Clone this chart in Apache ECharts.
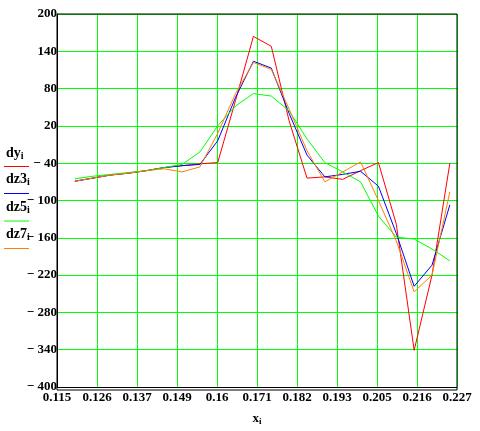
<!DOCTYPE html>
<html>
<head>
<meta charset="utf-8">
<script src="https://cdn.jsdelivr.net/npm/echarts@6/dist/echarts.min.js"></script>
<style>
html,body{margin:0;padding:0;background:#fff;}
#c{width:480px;height:431px;}
</style>
</head>
<body>
<div id="c"></div>
<script>
// x values
var xs = [0.120, 0.125, 0.130, 0.135, 0.140, 0.145, 0.150, 0.155, 0.160, 0.165, 0.170,
          0.175, 0.180, 0.185, 0.190, 0.195, 0.200, 0.205, 0.210, 0.215, 0.220, 0.225];
// series
var dy  = [-69, -64, -59, -56, -52, -47, -44, -41, -39, 61, 164, 148, 28, -64, -62, -66, -52, -39, -138, -341, -220, -40];
var dz3 = [-69, -64, -59, -56, -52, -47, -44, -42, -4, 66, 124, 113, 40, -27, -62, -58, -53, -77, -153, -238, -204, -107];
var dz5 = [-65, -61, -58, -55, -52, -47, -42, -22, 20, 52, 72, 68, 44, -1, -39, -54, -70, -125, -159, -162, -178, -197];
var dz7 = [-69, -64, -59, -56, -52, -49, -54, -46, 8, 72, 122, 111, 47, -20, -70, -54, -38, -100, -165, -247, -220, -86];
// ticks
var xTicks = [0.115, 0.1262, 0.1374, 0.1486, 0.1598, 0.171, 0.1822, 0.1934, 0.2046, 0.2158, 0.227];
var yTicks = [-400, -340, -280, -220, -160, -100, -40, 20, 80, 140, 200];

var FONT = '"Liberation Serif", "Times New Roman", serif';
function pairs(ys){ return xs.map(function(x,i){ return [x, ys[i]]; }); }
function mk(name, ys, color){
  return {name:name, type:'line', data:pairs(ys), showSymbol:false, symbol:'none',
          lineStyle:{color:color, width:1}, itemStyle:{color:color}, animation:false, silent:true};
}
var GL = 57, GT = 14, GW = 400, GH = 376;
var legendItems = [
  {t:'dy', y:155, ly:166.5, c:'#ff0000'},
  {t:'dz3', y:181, ly:193.5, c:'#0000ff'},
  {t:'dz5', y:209, ly:221, c:'#00ff00'},
  {t:'dz7', y:236, ly:248.5, c:'#ff8000'}
];
var graphics = [];
legendItems.forEach(function(it){
  graphics.push({type:'text', left:6, top:it.y-9, z:10, style:{
    text:'{b|'+it.t+'}{s|i}', rich:{
      b:{fontFamily:FONT, fontWeight:'bold', fontSize:14, fill:'#000'},
      s:{fontFamily:FONT, fontWeight:'bold', fontSize:10, fill:'#000', padding:[7,0,0,0]}
    }}});
  graphics.push({type:'line', z:10, shape:{x1:4, y1:it.ly, x2:29, y2:it.ly}, style:{stroke:it.c, lineWidth:1}});
});
graphics.push({type:'rect', z:20, silent:true, shape:{x:GL, y:GT, width:GW, height:GH},
  style:{fill:'none', stroke:'#000', lineWidth:1}});

var chart = echarts.init(document.getElementById('c'), null, {renderer:'canvas'});
chart.setOption({
  animation:false,
  backgroundColor:'#fff',
  grid:{left:GL, top:GT, width:GW, height:GH, show:false},
  xAxis:{type:'value', min:0.115, max:0.227,
    axisLine:{show:true, onZero:false, lineStyle:{color:'#000', width:1}},
    axisTick:{show:false, customValues:xTicks},
    splitLine:{show:true, lineStyle:{color:'#00ff00', width:1}},
    axisLabel:{customValues:xTicks, margin:4, color:'#000', fontFamily:FONT, fontWeight:'bold', fontSize:13,
      formatter:function(v){ return String(parseFloat(v.toFixed(3))); }},
    name:'{b|x}{s|i}', nameLocation:'middle', nameGap:24,
    nameTextStyle:{rich:{
      b:{fontFamily:FONT, fontWeight:'bold', fontSize:13, color:'#000'},
      s:{fontFamily:FONT, fontWeight:'bold', fontSize:9, color:'#000', padding:[6,0,0,0]}
    }}
  },
  yAxis:{type:'value', min:-400, max:200,
    axisLine:{show:true, onZero:false, lineStyle:{color:'#000', width:1}},
    axisTick:{show:false, customValues:yTicks},
    splitLine:{show:true, lineStyle:{color:'#00ff00', width:1}},
    axisLabel:{customValues:yTicks, margin:0, color:'#000', fontFamily:FONT, fontWeight:'bold', fontSize:13,
      formatter:function(v){ return v < 0 ? '\u2212 ' + Math.abs(v) : String(v); }}
  },
  series:[
    mk('dy', dy, '#ff0000'),
    mk('dz3', dz3, '#0000ff'),
    mk('dz5', dz5, '#00ff00'),
    mk('dz7', dz7, '#ff8000')
  ],
  graphic:graphics
});
</script>
</body>
</html>
